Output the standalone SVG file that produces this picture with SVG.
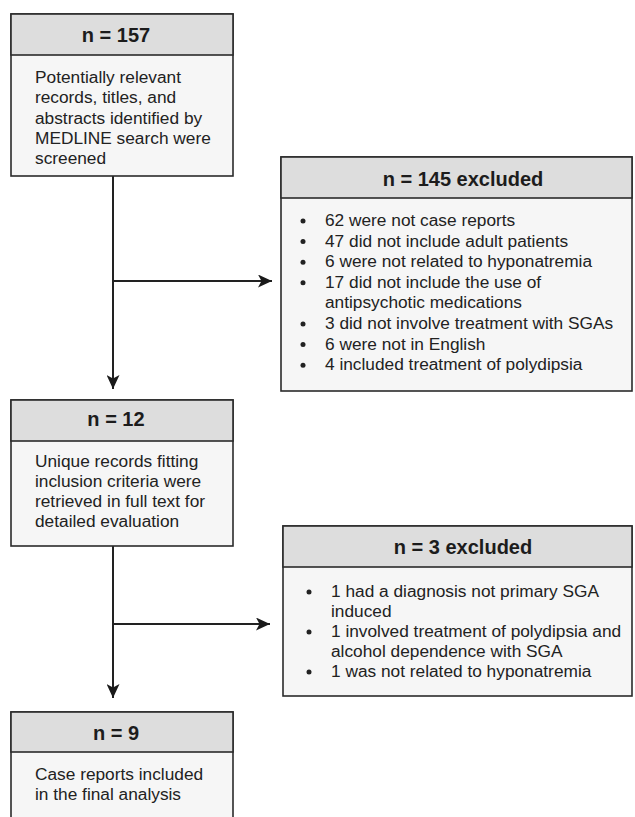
<svg xmlns="http://www.w3.org/2000/svg" width="635" height="817" viewBox="0 0 635 817">
<defs>
<style>
.hd{fill:#dddddd;stroke:#2b2b2b;stroke-width:1.6}
.bd{fill:#f6f6f6;stroke:#2b2b2b;stroke-width:1.6}
.ht{font-family:"Liberation Sans",Arial,sans-serif;font-weight:bold;font-size:20px;fill:#1c1c1c;text-anchor:middle}
.tx{font-family:"Liberation Sans",Arial,sans-serif;font-size:17.3px;fill:#222}
.bu{fill:#222}
.ln{stroke:#222;stroke-width:2;fill:none}
</style>
<marker id="ah" markerUnits="userSpaceOnUse" markerWidth="15" markerHeight="13" refX="14" refY="6.5" orient="auto">
<path d="M0,0 L14,6.5 L0,13 L3.5,6.5 Z" fill="#1a1a1a"/>
</marker>
</defs>
<rect width="635" height="817" fill="#ffffff"/>

<g id="connectors">
<path class="ln" d="M113,176 V389" marker-end="url(#ah)"/>
<path class="ln" d="M113,281 H272" marker-end="url(#ah)"/>
<path class="ln" d="M113,546 V698" marker-end="url(#ah)"/>
<path class="ln" d="M113,624 H270" marker-end="url(#ah)"/>
</g>

<g id="node-157">
<rect class="bd" x="11" y="14" width="222" height="162"/>
<rect class="hd" x="11" y="14" width="222" height="41"/>
<text class="ht" x="116" y="42">n = 157</text>
<text class="tx" x="35" y="83">Potentially relevant</text>
<text class="tx" x="35" y="103.3">records, titles, and</text>
<text class="tx" x="35" y="123.6">abstracts identified by</text>
<text class="tx" x="35" y="143.9">MEDLINE search were</text>
<text class="tx" x="35" y="164.2">screened</text>
</g>

<g id="node-145">
<rect class="bd" x="281" y="157" width="351" height="234"/>
<rect class="hd" x="281" y="157" width="351" height="41"/>
<text class="ht" x="463" y="186">n = 145 excluded</text>
<g class="bu">
<circle cx="303" cy="221" r="2.5"/>
<circle cx="303" cy="241.6" r="2.5"/>
<circle cx="303" cy="262.2" r="2.5"/>
<circle cx="303" cy="282.8" r="2.5"/>
<circle cx="303" cy="324" r="2.5"/>
<circle cx="303" cy="344.6" r="2.5"/>
<circle cx="303" cy="365.2" r="2.5"/>
</g>
<text class="tx" x="325" y="226">62 were not case reports</text>
<text class="tx" x="325" y="246.6">47 did not include adult patients</text>
<text class="tx" x="325" y="267.2">6 were not related to hyponatremia</text>
<text class="tx" x="325" y="287.8">17 did not include the use of</text>
<text class="tx" x="325" y="308.4">antipsychotic medications</text>
<text class="tx" x="325" y="329">3 did not involve treatment with SGAs</text>
<text class="tx" x="325" y="349.6">6 were not in English</text>
<text class="tx" x="325" y="370.2">4 included treatment of polydipsia</text>
</g>

<g id="node-12">
<rect class="bd" x="11" y="400" width="222" height="146"/>
<rect class="hd" x="11" y="400" width="222" height="41"/>
<text class="ht" x="116" y="426">n = 12</text>
<text class="tx" x="35" y="466.7">Unique records fitting</text>
<text class="tx" x="35" y="486.7">inclusion criteria were</text>
<text class="tx" x="35" y="506.7">retrieved in full text for</text>
<text class="tx" x="35" y="526.7">detailed evaluation</text>
</g>

<g id="node-3">
<rect class="bd" x="283" y="526" width="349" height="170"/>
<rect class="hd" x="283" y="526" width="349" height="41"/>
<text class="ht" x="463" y="554">n = 3 excluded</text>
<g class="bu">
<circle cx="309" cy="592" r="2.5"/>
<circle cx="309" cy="632" r="2.5"/>
<circle cx="309" cy="672" r="2.5"/>
</g>
<text class="tx" x="331" y="597">1 had a diagnosis not primary SGA</text>
<text class="tx" x="331" y="617">induced</text>
<text class="tx" x="331" y="637">1 involved treatment of polydipsia and</text>
<text class="tx" x="331" y="657">alcohol dependence with SGA</text>
<text class="tx" x="331" y="677">1 was not related to hyponatremia</text>
</g>

<g id="node-9">
<rect class="bd" x="11" y="712" width="222" height="120"/>
<rect class="hd" x="11" y="712" width="222" height="40"/>
<text class="ht" x="116" y="740">n = 9</text>
<text class="tx" x="35" y="780">Case reports included</text>
<text class="tx" x="35" y="800">in the final analysis</text>
</g>
</svg>
